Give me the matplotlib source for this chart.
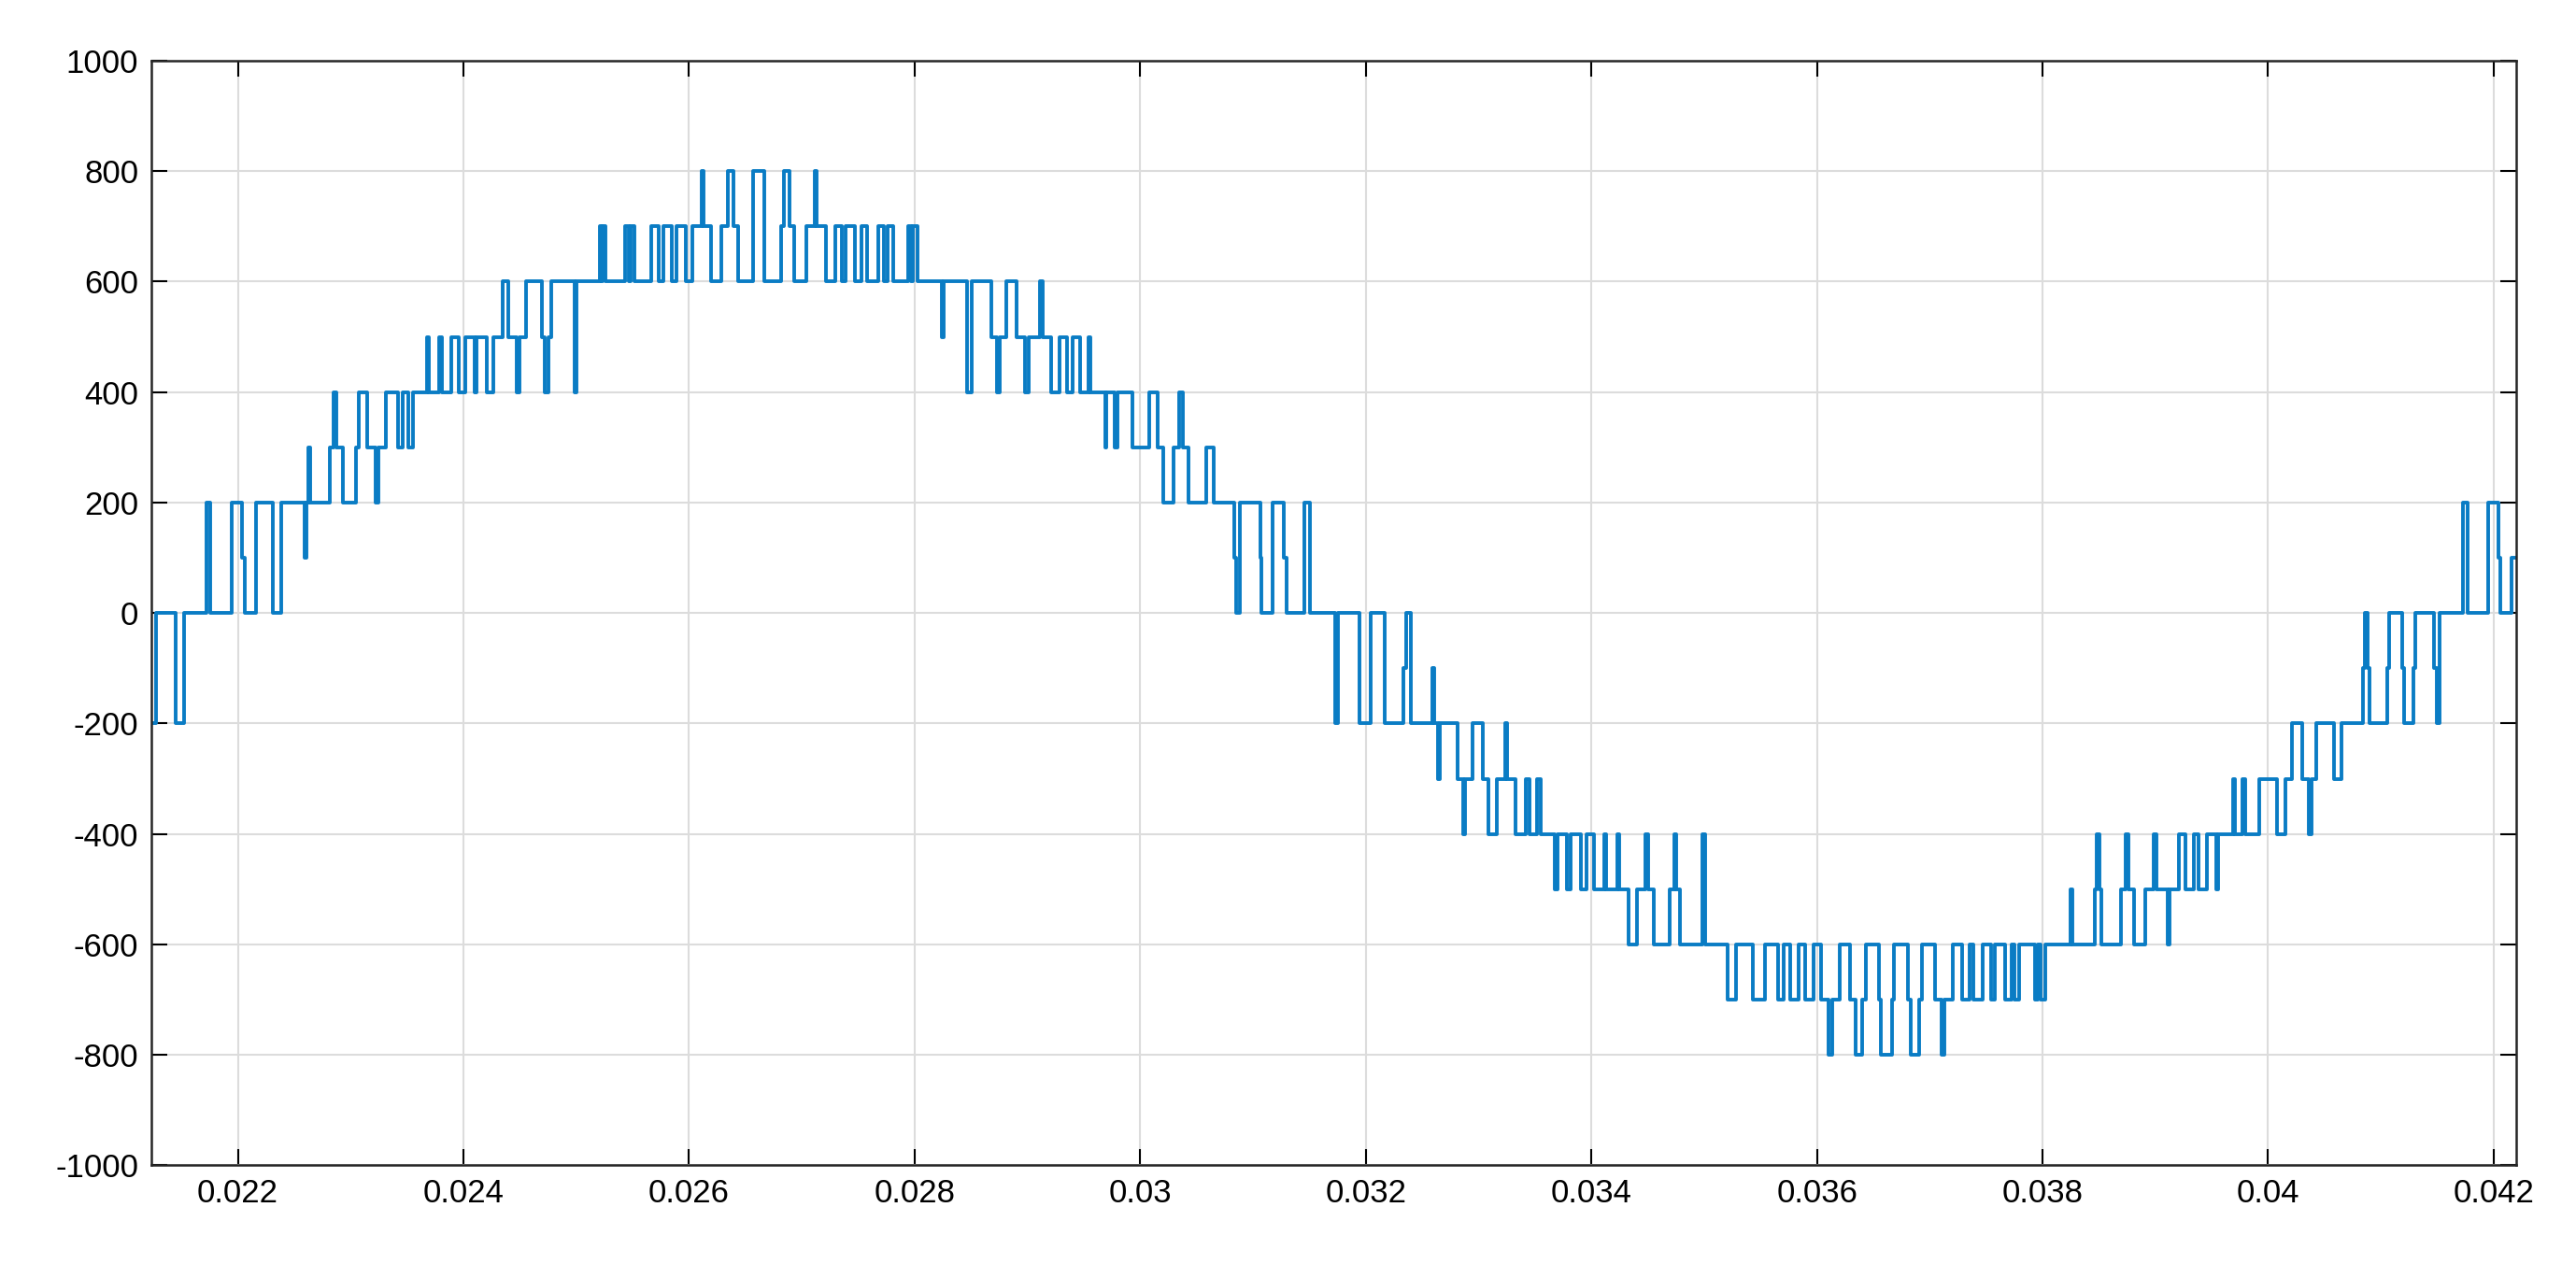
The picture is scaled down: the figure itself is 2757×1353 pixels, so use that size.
import matplotlib
matplotlib.use("Agg")
import matplotlib.pyplot as plt
import numpy as np

plt.rcParams['font.family'] = ['Liberation Sans', 'DejaVu Sans']
plt.rcParams['axes.unicode_minus'] = False

# breakpoints: time (ms) from which the level holds, and the level
t_ms = [21.234,21.271,21.448,21.522,21.725,21.759,21.947,22.040,22.058,22.165,22.313,22.387,22.594,22.609,22.623,22.638,
22.815,22.849,22.871,22.934,23.045,23.074,23.148,23.222,23.248,23.314,23.421,23.458,23.514,23.551,23.676,23.695,23.784,
23.809,23.894,23.961,24.013,24.098,24.120,24.209,24.264,24.345,24.397,24.471,24.500,24.552,24.693,24.722,24.752,24.781,
24.984,25.003,25.206,25.225,25.236,25.262,25.435,25.465,25.483,25.520,25.661,25.734,25.771,25.845,25.890,25.971,26.030,
26.111,26.130,26.196,26.289,26.344,26.392,26.437,26.566,26.666,26.813,26.843,26.895,26.932,
27.038,27.112,27.131,27.212,27.293,27.356,27.389,27.471,27.526,27.582,27.674,27.726,27.759,27.807,27.944,27.966,27.981,
28.029,28.239,28.258,28.461,28.509,28.683,28.727,28.757,28.812,28.904,28.978,29.015,29.108,29.133,29.207,29.281,29.348,
29.403,29.470,29.544,29.562,29.688,29.703,29.773,29.799,29.928,30.079,30.153,30.201,30.294,30.345,30.382,30.427,30.586,
30.648,30.833,30.852,30.881,31.062,31.077,31.177,31.277,31.299,31.454,31.509,31.731,31.750,31.945,32.045,32.167,32.333,
32.359,32.396,32.592,32.610,32.636,32.655,
32.818,32.863,32.881,32.948,33.040,33.084,33.158,33.236,33.251,33.325,33.421,33.454,33.517,33.554,33.679,33.701,33.787,
33.816,33.908,33.960,34.027,34.112,34.130,34.230,34.248,34.330,34.404,34.481,34.507,34.555,34.692,34.736,34.755,34.784,
34.987,35.006,35.209,35.283,35.431,35.542,35.653,35.708,35.763,35.837,35.893,35.967,36.033,36.103,36.133,36.199,36.292,
36.347,36.399,36.436,36.547,36.569,36.669,36.680,36.809,36.828,36.909,36.927,37.049,37.108,37.130,37.205,37.286,37.352,
37.389,37.470,37.544,37.581,37.666,37.729,37.751,37.796,37.936,37.962,37.980,38.024,
38.050,38.247,38.266,38.462,38.484,38.506,38.525,38.696,38.738,38.760,38.810,38.912,38.982,39.007,39.111,39.127,39.213,
39.267,39.339,39.387,39.457,39.539,39.561,39.688,39.710,39.774,39.799,39.919,40.075,40.154,40.211,40.299,40.363,40.385,
40.426,40.585,40.648,40.844,40.860,40.882,40.901,41.060,41.076,41.186,41.202,41.288,41.304,41.472,41.494,41.519,41.731,
41.769,41.953,42.042,42.058,42.159,42.200]

levels = [-200,0,-200,0,200,0,200,100,0,200,0,200,100,200,300,200,
300,400,300,200,300,400,300,200,300,400,300,400,300,400,500,400,500,
400,500,400,500,400,500,400,500,600,500,400,500,600,500,400,500,600,
400,600,700,600,700,600,700,600,700,600,700,600,700,600,700,600,700,
800,700,600,700,800,700,600,800,600,700,800,700,600,
700,800,700,600,700,600,700,600,700,600,700,600,700,600,700,600,700,
600,500,600,400,600,500,400,500,600,500,400,500,600,500,400,500,400,
500,400,500,400,300,400,300,400,300,400,300,200,300,400,300,200,300,
200,100,0,200,100,0,200,100,0,200,0,-200,0,-200,0,-200,-100,
0,-200,-100,-200,-300,-200,
-300,-400,-300,-200,-300,-400,-300,-200,-300,-400,-300,-400,-300,-400,-500,-400,-500,
-400,-500,-400,-500,-400,-500,-400,-500,-600,-500,-400,-500,-600,-500,-400,-500,-600,
-400,-600,-700,-600,-700,-600,-700,-600,-700,-600,-700,-600,-700,-800,-700,-600,-700,
-800,-700,-600,-700,-800,-700,-600,-700,-800,-700,-600,-700,-800,-700,-600,-700,-600,
-700,-600,-700,-600,-700,-600,-700,-600,-700,-600,-700,-600,
-600,-500,-600,-500,-400,-500,-600,-500,-400,-500,-600,-500,-400,-500,-600,-500,-400,
-500,-400,-500,-400,-500,-400,-300,-400,-300,-400,-300,-400,-300,-200,-300,-400,-300,
-200,-300,-200,-100,0,-100,-200,-100,0,-100,-200,-100,0,-100,-200,0,200,
0,200,100,0,100,100]

x_ticks = [0.022,0.024,0.026,0.028,0.030,0.032,0.034,0.036,0.038,0.040,0.042]
x_labels = ["0.022","0.024","0.026","0.028","0.03","0.032","0.034","0.036","0.038","0.04","0.042"]
y_ticks = list(range(-1000, 1001, 200))

t = np.array(t_ms) * 1e-3
fig = plt.figure(figsize=(27.57, 13.53), dpi=100)
ax = fig.add_axes([0.0588, 0.078, 0.918, 0.874])
ax.plot(t, levels, drawstyle="steps-post", color="#0a7cc4", lw=2.8)
ax.set_xlim(t_ms[0]*1e-3, t_ms[-1]*1e-3)
ax.set_ylim(-1000, 1000)
ax.set_xticks(x_ticks)
ax.set_xticklabels(x_labels)
ax.set_yticks(y_ticks)
ax.set_yticklabels([str(v) for v in y_ticks])
ax.grid(True, color="#dcdcdc", lw=1.5)
ax.set_axisbelow(True)
ax.tick_params(direction="in", length=12, width=1.5, labelsize=25, pad=10, top=True, right=True, labeltop=False, labelright=False)
for s in ax.spines.values():
    s.set_linewidth(1.8)
    s.set_color("#262626")
fig.savefig("out.png", dpi=100)
